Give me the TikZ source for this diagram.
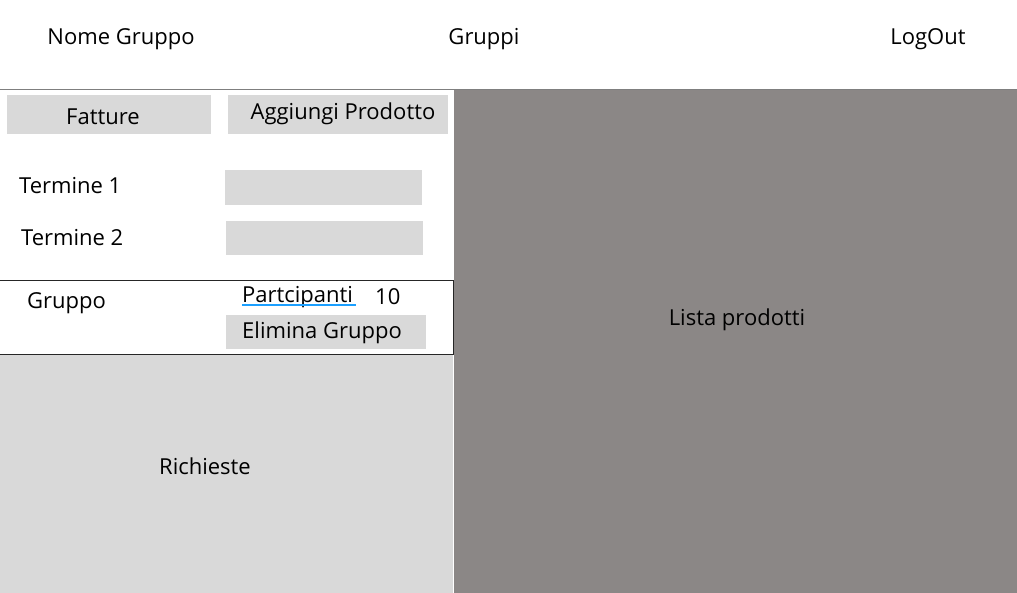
\documentclass[tikz,border=0pt]{standalone}
\usepackage{fontspec}
\setmainfont{Open Sans}
\usetikzlibrary{positioning}

\definecolor{boxgray}{HTML}{D9D9D9}
\definecolor{listgray}{HTML}{8B8786}
\definecolor{linegray}{HTML}{7F7F7F}
\definecolor{linkblue}{HTML}{1A9FFF}

\begin{document}
\begin{tikzpicture}[
            x = 1pt, y = -1pt, % pixel grid, y downwards
            font = \fontsize{22}{26}\selectfont,
            inner sep = 0pt
        ]

        \tikzstyle{button}=[
            fill = boxgray,
            minimum height = 39pt
        ]
        \tikzstyle{field}=[
            fill = boxgray,
            minimum width = 197pt,
            minimum height = 35pt
        ]
        \tikzstyle{label}=[
            anchor = west
        ]

        \useasboundingbox (0,0) rectangle (1017,593);

        % panels
        \node[fill = listgray, minimum width = 563pt, minimum height = 503pt, anchor = north west] (lista) at (454,90) {};
        \node at (737,320) (listatext) {Lista prodotti};
        \node[fill = boxgray, minimum width = 453pt, minimum height = 239pt, anchor = north west] (richieste) at (0,354) {};
        \node at (205,466) (richiestetext) {Richieste};

        % header
        \node at (121,39) (nome) {Nome Gruppo};
        \node at (484,39) (gruppi) {Gruppi};
        \node at (928,39) (logout) {LogOut};
        \coordinate (barL) at (0,89.5);
        \coordinate (barR) at (1017,89.5);
        \draw[linegray, line width = 1.5pt] (barL) -- (barR);

        % buttons
        \node[button, minimum width = 204pt] (fatture) at (109,114.5) {};
        \node at (103,117) (fatturetext) {Fatture};
        \node[button, minimum width = 220pt] (aggiungi) at (338,114.5) {};
        \node at (343,114) (aggiungitext) {Aggiungi Prodotto};

        % terms
        \node[label] (term1) at (19,186) {Termine 1};
        \node[field] (field1) at (323.5,187.5) {};
        \node[label] (term2) at (21,238) {Termine 2};
        \node[field, minimum height = 34pt] (field2) at (324,238) {};

        % group
        \node[draw = black!85, line width = 1pt, minimum width = 454pt, minimum height = 74pt, anchor = north west] (gruppobox) at (-1,280) {};
        \node[label] (gruppo) at (27,303) {Gruppo};
        \node[label] (part) at (242,297) {Partcipanti};
        \node[label] (num) at (375,297) {10};
        \draw[linkblue, line width = 1.5pt] ([yshift = -2.5pt]part.base west) -- ([yshift = -2.5pt, xshift = 3pt]part.base east);
        \node[button, minimum width = 200pt, minimum height = 34pt] (elimina) at (326,332) {};
        \node[label] (eliminatext) at (242,333) {Elimina Gruppo};

  \end{tikzpicture}
\end{document}
